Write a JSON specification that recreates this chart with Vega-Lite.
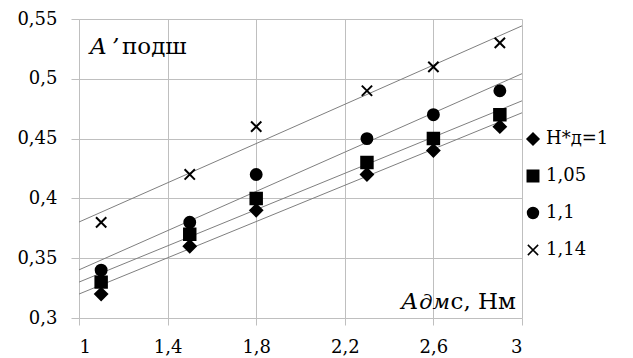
{
  "$schema": "https://vega.github.io/schema/vega-lite/v6.json",
  "width": 443,
  "height": 299,
  "autosize": {"type": "none"},
  "padding": {"left": 79, "top": 19, "right": 111, "bottom": 40},
  "background": "white",
  "config": {
    "view": {"stroke": null},
    "font": "DejaVu Serif",
    "axis": {
      "gridColor": "#bfbfbf",
      "gridWidth": 1,
      "domainColor": "#bfbfbf",
      "tickColor": "#bfbfbf",
      "labelFont": "DejaVu Serif",
      "labelFontSize": 18,
      "labelColor": "#000000",
      "title": null
    },
    "legend": {"labelFont": "DejaVu Serif"}
  },
  "datasets": {
    "measurements": [
      {"series": "1", "adm": 1.1, "a": 0.32},
      {"series": "1", "adm": 1.5, "a": 0.36},
      {"series": "1", "adm": 1.8, "a": 0.39},
      {"series": "1", "adm": 2.3, "a": 0.42},
      {"series": "1", "adm": 2.6, "a": 0.44},
      {"series": "1", "adm": 2.9, "a": 0.46},
      {"series": "1.05", "adm": 1.1, "a": 0.33},
      {"series": "1.05", "adm": 1.5, "a": 0.37},
      {"series": "1.05", "adm": 1.8, "a": 0.40},
      {"series": "1.05", "adm": 2.3, "a": 0.43},
      {"series": "1.05", "adm": 2.6, "a": 0.45},
      {"series": "1.05", "adm": 2.9, "a": 0.47},
      {"series": "1.1", "adm": 1.1, "a": 0.34},
      {"series": "1.1", "adm": 1.5, "a": 0.38},
      {"series": "1.1", "adm": 1.8, "a": 0.42},
      {"series": "1.1", "adm": 2.3, "a": 0.45},
      {"series": "1.1", "adm": 2.6, "a": 0.47},
      {"series": "1.1", "adm": 2.9, "a": 0.49},
      {"series": "1.14", "adm": 1.1, "a": 0.38},
      {"series": "1.14", "adm": 1.5, "a": 0.42},
      {"series": "1.14", "adm": 1.8, "a": 0.46},
      {"series": "1.14", "adm": 2.3, "a": 0.49},
      {"series": "1.14", "adm": 2.6, "a": 0.51},
      {"series": "1.14", "adm": 2.9, "a": 0.53}
    ],
    "labels": [{"name": "annotation"}]
  },
  "layer": [
    {
      "data": {"name": "measurements"},
      "transform": [
        {"regression": "a", "on": "adm", "groupby": ["series"], "extent": [1, 3]}
      ],
      "mark": {"type": "line", "color": "#7f7f7f", "strokeWidth": 1},
      "encoding": {
        "x": {
          "field": "adm",
          "type": "quantitative",
          "scale": {"domain": [1, 3], "nice": false, "zero": false},
          "axis": {
            "values": [1, 1.4, 1.8, 2.2, 2.6, 3],
            "labelExpr": "replace(format(datum.value, '.1~f'), '.', ',')",
            "tickSize": 7,
            "labelPadding": 13,
            "domain": false
          }
        },
        "y": {
          "field": "a",
          "type": "quantitative",
          "scale": {"domain": [0.3, 0.55], "nice": false, "zero": false},
          "axis": {
            "values": [0.3, 0.35, 0.4, 0.45, 0.5, 0.55],
            "labelExpr": "replace(format(datum.value, '.2~f'), '.', ',')",
            "tickSize": 8,
            "labelPadding": 14,
            "domain": true
          }
        },
        "detail": {"field": "series"}
      }
    },
    {
      "data": {"name": "measurements"},
      "mark": {
        "type": "point",
        "filled": true,
        "fill": "black",
        "stroke": "black",
        "strokeWidth": 2,
        "opacity": 1
      },
      "encoding": {
        "x": {"field": "adm", "type": "quantitative"},
        "y": {"field": "a", "type": "quantitative"},
        "shape": {
          "field": "series",
          "type": "ordinal",
          "scale": {
            "domain": ["1", "1.05", "1.1", "1.14"],
            "range": ["diamond", "square", "circle", "M-1,-1L1,1M-1,1L1,-1"]
          },
          "legend": {
            "title": null,
            "orient": "none",
            "legendX": 445,
            "legendY": 111,
            "padding": 0,
            "rowPadding": 19,
            "labelFontSize": 18,
            "labelColor": "#000000",
            "labelOffset": 4,
            "symbolFillColor": "black",
            "symbolStrokeColor": "black",
            "symbolStrokeWidth": 1.5,
            "labelExpr": "datum.value == '1' ? 'H*д=1' : datum.value == '1.05' ? '\u00a01,05' : datum.value == '1.1' ? '\u00a0\u00a01,1' : '\u00a0\u00a01,14'"
          }
        },
        "size": {
          "field": "series",
          "type": "ordinal",
          "scale": {"domain": ["1", "1.05", "1.1", "1.14"], "range": [144, 106, 139, 144]}
        }
      }
    },
    {
      "data": {"name": "labels"},
      "mark": {"type": "text", "text": "A", "font": "DejaVu Serif", "fontSize": 23, "fontStyle": "italic", "align": "left", "baseline": "alphabetic", "dx": 11, "dy": 35, "fill": "black"},
      "encoding": {"x": {"datum": 1, "type": "quantitative"}, "y": {"datum": 0.55, "type": "quantitative"}}
    },
    {
      "data": {"name": "labels"},
      "mark": {"type": "text", "text": "’", "font": "DejaVu Serif", "fontSize": 23, "fontStyle": "italic", "align": "left", "baseline": "alphabetic", "dx": 33, "dy": 35, "fill": "black"},
      "encoding": {"x": {"datum": 1, "type": "quantitative"}, "y": {"datum": 0.55, "type": "quantitative"}}
    },
    {
      "data": {"name": "labels"},
      "mark": {"type": "text", "text": "подш", "font": "DejaVu Serif", "fontSize": 23, "align": "left", "baseline": "alphabetic", "dx": 43, "dy": 35, "fill": "black"},
      "encoding": {"x": {"datum": 1, "type": "quantitative"}, "y": {"datum": 0.55, "type": "quantitative"}}
    },
    {
      "data": {"name": "labels"},
      "mark": {"type": "text", "text": "с, Нм", "font": "DejaVu Serif", "fontSize": 23, "align": "right", "baseline": "alphabetic", "dx": -6, "dy": -9, "fill": "black"},
      "encoding": {"x": {"datum": 3, "type": "quantitative"}, "y": {"datum": 0.3, "type": "quantitative"}}
    },
    {
      "data": {"name": "labels"},
      "mark": {"type": "text", "text": "дм", "font": "DejaVu Serif", "fontSize": 21, "fontStyle": "italic", "align": "right", "baseline": "alphabetic", "dx": -72, "dy": -9, "fill": "black"},
      "encoding": {"x": {"datum": 3, "type": "quantitative"}, "y": {"datum": 0.3, "type": "quantitative"}}
    },
    {
      "data": {"name": "labels"},
      "mark": {"type": "text", "text": "A", "font": "DejaVu Serif", "fontSize": 23, "fontStyle": "italic", "align": "right", "baseline": "alphabetic", "dx": -104, "dy": -9, "fill": "black"},
      "encoding": {"x": {"datum": 3, "type": "quantitative"}, "y": {"datum": 0.3, "type": "quantitative"}}
    }
  ]
}
